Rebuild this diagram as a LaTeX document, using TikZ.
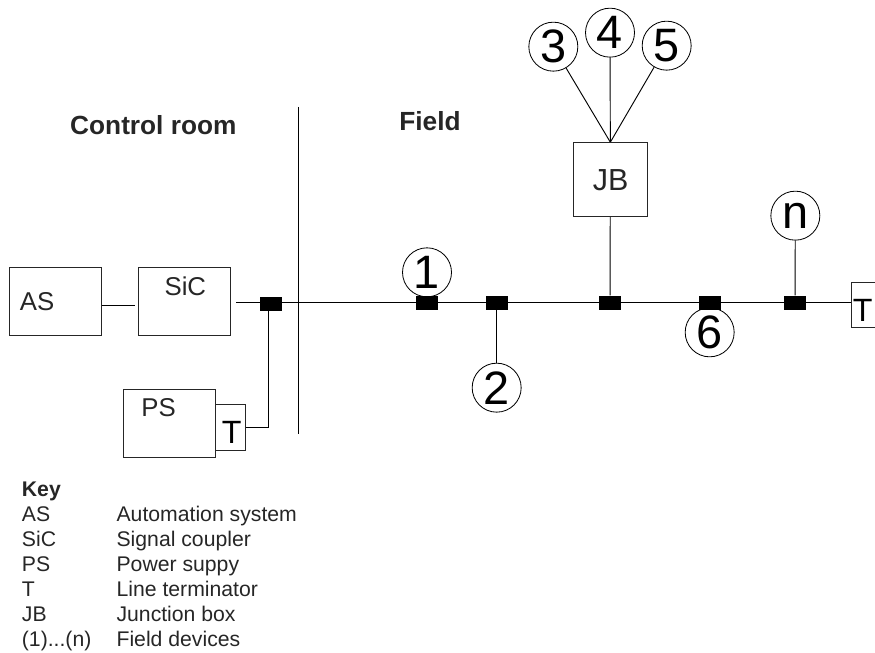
\documentclass[tikz,border=0pt]{standalone}
\usepackage{fontspec}
\setmainfont{Liberation Sans}
\usetikzlibrary{backgrounds}
\tikzset{
  unitbox/.style={draw=black!85, line width=0.8pt, inner sep=0pt},
  tapblock/.style={fill=black, draw=none, minimum width=0.66cm, minimum height=0.43cm, inner sep=0pt},
  device/.style={circle, draw=black, fill=white, line width=0.7pt, minimum size=1.47cm, inner sep=0pt, font=\fontsize{40}{40}\selectfont},
  wire/.style={line width=0.8pt, draw=black},
  boxlabel/.style={anchor=base, inner sep=0pt, text=black!85, font=\fontsize{22}{22}\selectfont},
  termlabel/.style={anchor=base, inner sep=0pt, font=\fontsize{27.5}{27.5}\selectfont},
  arealabel/.style={anchor=base, inner sep=0pt, text=black!85, font=\fontsize{22.4}{22.4}\selectfont\bfseries},
  keyitem/.style={anchor=base west, inner sep=0pt, text=black!85, font=\fontsize{18.1}{18.1}\selectfont},
}
\begin{document}
\begin{tikzpicture}
\useasboundingbox (0,0) rectangle (26.25,19.56);
\clip (0,0) rectangle (26.25,19.56);
% boxes
\node[unitbox, minimum width=2.76cm, minimum height=2.06cm] (as) at (1.65,10.52) {};
\node[unitbox, minimum width=2.76cm, minimum height=2.06cm] (sic) at (5.535,10.52) {};
\node[unitbox, minimum width=2.75cm, minimum height=2.06cm] (ps) at (5.078,6.86) {};
\node[unitbox, minimum width=0.92cm, minimum height=1.38cm] (termleft) at (6.91,6.75) {};
\node[unitbox, minimum width=0.9cm, minimum height=1.37cm] (termright) at (25.98,10.41) {};
\node[unitbox, minimum width=2.2cm, minimum height=2.2cm] (jb) at (18.31,14.18) {};
\node[boxlabel] (aslabel) at (1.11,10.26) {AS};
\node[boxlabel] (siclabel) at (5.56,10.71) {SiC};
\node[boxlabel] (pslabel) at (4.76,7.06) {PS};
\node[boxlabel, font=\fontsize{26}{26}\selectfont] (jblabel) at (18.32,13.84) {JB};
\node[termlabel] (termleftlabel) at (6.95,6.26) {T};
\node[termlabel] (termrightlabel) at (25.88,9.91) {T};
% free line ends
\coordinate (asend) at (4.05,10.40);
\coordinate (busstart) at (7.08,10.48);
\coordinate (walltop) at (8.94,16.35);
\coordinate (wallbottom) at (8.94,6.54);
% field devices
\node[device] (devone) at (12.81,11.39) {1};
\node[device] (devtwo) at (14.90,7.93) {2};
\node[device] (devthree) at (16.60,18.16) {3};
\node[device] (devfour) at (18.30,18.58) {4};
\node[device] (devfive) at (20.00,18.19) {5};
\node[device] (devsix) at (21.29,9.59) {6};
\node[device] (devn) at (23.86,13.09) {n};
% taps on the bus
\node[tapblock] (tapzero) at (8.13,10.44) {};
\node[tapblock] (tapone) at (12.81,10.48) {};
\node[tapblock] (taptwo) at (14.90,10.48) {};
\node[tapblock] (tapjb) at (18.30,10.48) {};
\node[tapblock] (tapsix) at (21.30,10.48) {};
\node[tapblock] (tapn) at (23.85,10.48) {};
% wiring
\begin{scope}[on background layer]
\draw[wire] (as.east |- asend) -- (asend);
\draw[wire] (busstart) -- (busstart -| termright.west);
\draw[wire] (walltop) -- (wallbottom);
\draw[wire] (termleft.east) -| ([xshift=-0.08cm]tapzero.south);
\draw[wire] (taptwo) -- (devtwo);
\draw[wire] (tapjb) -- (jb);
\draw[wire] (tapn) -- (devn);
\draw[wire] (devthree) -- (jb.north);
\draw[wire] (devfour) -- (jb.north);
\draw[wire] (devfive) -- (jb.north);
\end{scope}
% area titles
\node[arealabel] (control) at (4.60,15.51) {Control room};
\node[arealabel] (field) at (12.90,15.63) {Field};
% key
\node[keyitem, font=\fontsize{18.1}{18.1}\selectfont\bfseries] (keyhead) at (0.65,4.66) {Key};
\node[keyitem] (keyas) at (0.65,3.91) {AS};
\node[keyitem] (keysic) at (0.65,3.16) {SiC};
\node[keyitem] (keyps) at (0.65,2.41) {PS};
\node[keyitem] (keyt) at (0.65,1.68) {T};
\node[keyitem] (keyjb) at (0.65,0.93) {JB};
\node[keyitem] (keydev) at (0.65,0.18) {(1)...(n)};
\node[keyitem] (textas) at (3.49,3.91) {Automation system};
\node[keyitem] (textsic) at (3.49,3.16) {Signal coupler};
\node[keyitem] (textps) at (3.49,2.41) {Power suppy};
\node[keyitem] (textt) at (3.49,1.68) {Line terminator};
\node[keyitem] (textjb) at (3.49,0.93) {Junction box};
\node[keyitem] (textdev) at (3.49,0.18) {Field devices};
\end{tikzpicture}
\end{document}
